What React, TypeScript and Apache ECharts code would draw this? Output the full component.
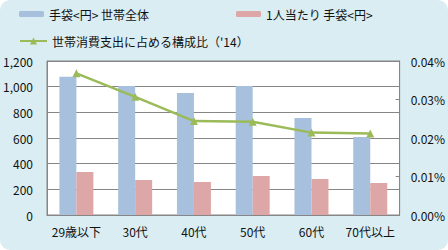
import React, { useEffect, useRef } from "react";
import * as echarts from "echarts";

const categories = ["29歳以下", "30代", "40代", "50代", "60代", "70代以上"];
const householdGloves = [1078, 1005, 950, 1005, 756, 608];
const perPersonGloves = [335, 273, 257, 304, 281, 249];
const shareOfSpending = [0.0368, 0.0307, 0.0244, 0.0242, 0.0214, 0.0212];
const leftTicks = { min: 0, max: 1200, interval: 200 };
const rightTicks = { min: 0, max: 0.04, interval: 0.01 };

const names = ["手袋<円> 世帯全体", "1人当たり 手袋<円>", "世帯消費支出に占める構成比（'14）"];

export default function App() {
  const ref = useRef<HTMLDivElement>(null);
  useEffect(() => {
    document.body.style.margin = "0";
    if (!ref.current) return;
    const chart = echarts.init(ref.current, undefined, { renderer: "svg" });
    const font = "'Noto Sans CJK JP', 'Noto Sans', sans-serif";
    const textStyle = { fontFamily: font, fontSize: 12, color: "#111111" };
    chart.setOption({
      animation: false,
      textStyle,
      legend: [
        { data: [names[0]], left: 17, top: 8, itemWidth: 25, itemHeight: 6, textStyle, padding: [0, 0, 0, 2] },
        { data: [names[1]], left: 234, top: 8, itemWidth: 25, itemHeight: 6, textStyle, padding: [0, 0, 0, 2] },
        { data: [names[2]], left: 17, top: 35, itemWidth: 27, itemHeight: 9, textStyle, padding: [0, 0, 0, 2] },
      ],
      grid: {
        left: 47,
        right: 47,
        top: 61,
        bottom: 35,
        show: true,
        backgroundColor: "#ffffff",
        borderColor: "#868686",
        borderWidth: 1,
      },
      xAxis: {
        type: "category",
        data: categories,
        axisLine: { show: true, lineStyle: { color: "#868686" } },
        axisTick: { show: false },
        axisLabel: { ...textStyle, margin: 10, interval: 0, hideOverlap: false },
      },
      yAxis: [
        {
          type: "value",
          ...leftTicks,
          axisLine: { show: true, lineStyle: { color: "#868686" } },
          axisTick: { show: false },
          splitLine: { lineStyle: { color: "#868686", width: 1 } },
          axisLabel: {
            ...textStyle,
            margin: 14,
            formatter: (v: number) => v.toLocaleString("en-US"),
          },
        },
        {
          type: "value",
          ...rightTicks,
          position: "right",
          axisLine: { show: true, lineStyle: { color: "#868686" } },
          axisTick: { show: true, inside: true, length: 4, lineStyle: { color: "#868686" } },
          splitLine: { show: false },
          axisLabel: {
            ...textStyle,
            margin: 11,
            formatter: (v: number) => v.toFixed(2) + "%",
          },
        },
      ],
      series: [
        {
          name: names[0],
          type: "bar",
          data: householdGloves,
          barWidth: 17,
          barGap: "0%",
          itemStyle: { color: "#a7c0de" },
        },
        {
          name: names[1],
          type: "bar",
          data: perPersonGloves,
          barWidth: 17,
          barGap: "0%",
          itemStyle: { color: "#dea7a7" },
        },
        {
          name: names[2],
          type: "line",
          yAxisIndex: 1,
          data: shareOfSpending,
          symbol: "triangle",
          symbolSize: 8,
          lineStyle: { color: "#9bbb59", width: 2.5 },
          itemStyle: { color: "#9bbb59" },
          z: 5,
        },
      ],
    });
    return () => chart.dispose();
  }, []);
  return (
    <div
      style={{
        width: 448,
        height: 250,
        background: "#daedf3",
        borderRadius: 10,
        overflow: "hidden",
        position: "relative",
      }}
    >
      <div ref={ref} style={{ width: 448, height: 250 }} />
    </div>
  );
}
